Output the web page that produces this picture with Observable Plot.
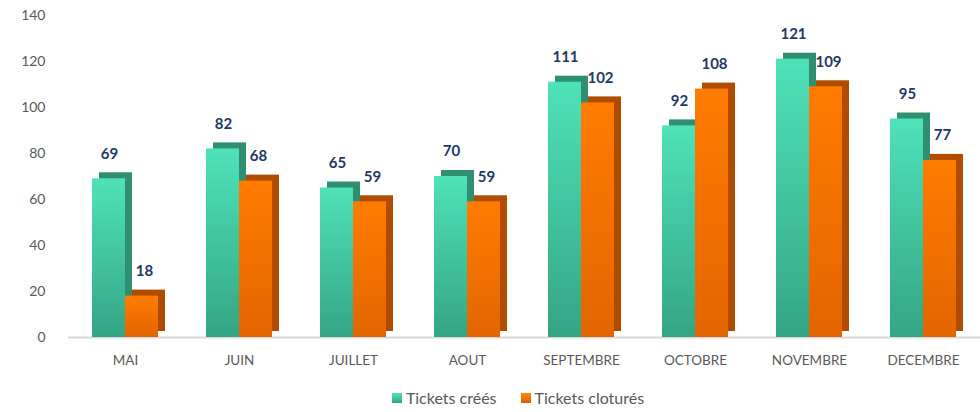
<!DOCTYPE html>
<html>
<head>
<meta charset="utf-8">
<script src="https://cdn.jsdelivr.net/npm/d3@7"></script>
<script src="https://cdn.jsdelivr.net/npm/@observablehq/plot@0.6"></script>
<style>
  html, body { margin: 0; padding: 0; background: #fff; }
  #legend { width: 980px; display: flex; justify-content: center; gap: 24px; padding-left: 56px; box-sizing: border-box;
            font-family: Lato, "Open Sans", sans-serif; font-size: 16px; color: #595959; margin-top: 0px; }
  .item { display: flex; align-items: center; gap: 4px; }
  .sw { width: 10px; height: 10px; display: inline-block; }
</style>
</head>
<body>
<div id="chart"></div>
<div id="legend"></div>
<script>
const months = ["MAI", "JUIN", "JUILLET", "AOUT", "SEPTEMBRE", "OCTOBRE", "NOVEMBRE", "DECEMBRE"];
const created = [69, 82, 65, 70, 111, 92, 121, 95];
const closed = [18, 68, 59, 59, 102, 108, 109, 77];
const seriesNames = ["Tickets créés", "Tickets cloturés"];
const yTicks = [0, 20, 40, 60, 80, 100, 120, 140];

const rows = months.map((m, i) => ({month: m, created: created[i], closed: closed[i]}));

const chart = Plot.plot({
  width: 980,
  height: 388,
  marginLeft: 68,
  marginRight: 0,
  marginTop: 15,
  marginBottom: 51,
  style: {fontFamily: "Lato, 'Open Sans', sans-serif", fontSize: "14px", color: "#595959", background: "#fff"},
  x: {domain: months, paddingInner: 0.42, paddingOuter: 0.21, label: null, tickSize: 0, tickPadding: 18},
  y: {domain: [0, 140], ticks: yTicks, label: null, tickSize: 0, tickPadding: 23},
  marks: [
    Plot.ruleY([0], {stroke: "#d9d9d9", strokeWidth: 2}),
    Plot.barY(rows, {x: "month", y: "created", insetRight: 33, fill: "#2f8f70", dx: 7, dy: -6}),
    Plot.barY(rows, {x: "month", y: "created", insetRight: 33, fill: "url(#gGreen)"}),
    Plot.barY(rows, {x: "month", y: "closed", insetLeft: 33, fill: "#b04c00", dx: 7, dy: -6}),
    Plot.barY(rows, {x: "month", y: "closed", insetLeft: 33, fill: "url(#gOrange)"}),
    Plot.text(rows, {x: "month", y: "created", text: d => String(d.created), dx: -16, dy: -25,
      fill: "#1f3864", fontWeight: "bold", fontSize: 15}),
    Plot.text(rows, {x: "month", y: "closed", text: d => String(d.closed), dx: 19, dy: -25,
      fill: "#1f3864", fontWeight: "bold", fontSize: 15})
  ]
});

const svg = d3.select(chart);
svg.selectAll("g[aria-label='x-axis tick label'] text, g[aria-label='x-axis'] text").style("font-size", "13.5px");
const defs = svg.insert("defs", ":first-child");
function grad(id, top, bottom) {
  const g = defs.append("linearGradient").attr("id", id).attr("x1", 0).attr("y1", 0).attr("x2", 0).attr("y2", 1);
  g.append("stop").attr("offset", "0%").attr("stop-color", top);
  g.append("stop").attr("offset", "100%").attr("stop-color", bottom);
}
grad("gGreen", "#4fe2b8", "#34a585");
grad("gOrange", "#ff7c00", "#e26500");
document.getElementById("chart").appendChild(chart);

const legendColors = ["linear-gradient(#4fe2b8, #34a585)", "linear-gradient(#ff8a10, #d86000)"];
const legend = d3.select("#legend");
seriesNames.forEach((name, i) => {
  const it = legend.append("div").attr("class", "item");
  it.append("span").attr("class", "sw").style("background", legendColors[i]);
  it.append("span").text(name);
});
</script>
</body>
</html>
